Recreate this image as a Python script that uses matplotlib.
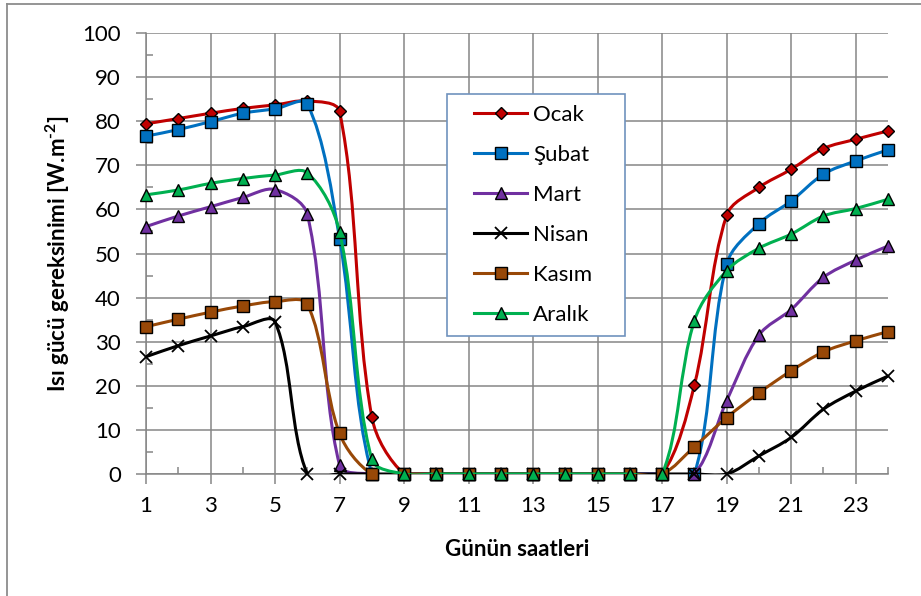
"""Hourly heating power demand per month (smoothed Excel-style lines)."""

import matplotlib

matplotlib.use("Agg")
import matplotlib.pyplot as plt
import numpy as np
from matplotlib.lines import Line2D
from matplotlib.patches import PathPatch, Rectangle
from matplotlib.path import Path

plt.rcParams["font.family"] = ["Lato", "DejaVu Sans"]
plt.rcParams["mathtext.fontset"] = "custom"
plt.rcParams["mathtext.rm"] = "Lato:bold"
plt.rcParams["mathtext.bf"] = "Lato:bold"
plt.rcParams["mathtext.default"] = "bf"

hours = [1, 2, 3, 4, 5, 6, 7, 8, 9, 10, 11, 12, 13, 14, 15, 16, 17, 18, 19, 20, 21, 22, 23, 24]

ocak = [79.4, 80.6, 81.8, 82.9, 83.7, 84.6, 82.2, 12.9, 0, 0, 0, 0, 0, 0, 0, 0, 0,
        20.2, 58.7, 65.0, 69.1, 73.8, 75.9, 77.8]
subat = [76.6, 78.1, 79.9, 81.8, 82.8, 83.9, 53.4, 0, 0, 0, 0, 0, 0, 0, 0, 0, 0,
         0, 47.6, 56.8, 61.9, 68.0, 71.0, 73.5]
mart = [56.1, 58.5, 60.6, 62.7, 64.5, 58.9, 2.0, 0, 0, 0, 0, 0, 0, 0, 0, 0, 0,
        0, 16.6, 31.5, 37.3, 44.6, 48.5, 51.7]
nisan = [26.6, 29.1, 31.3, 33.4, 34.5, 0, 0, 0, 0, 0, 0, 0, 0, 0, 0, 0, 0,
         0, 0, 4.1, 8.3, 14.7, 18.8, 22.2]
kasim = [33.4, 35.1, 36.7, 38.1, 39.1, 38.5, 9.2, 0, 0, 0, 0, 0, 0, 0, 0, 0, 0,
         6.2, 12.8, 18.4, 23.4, 27.7, 30.2, 32.3]
aralik = [63.3, 64.4, 65.9, 67.0, 67.8, 68.3, 54.9, 3.3, 0, 0, 0, 0, 0, 0, 0, 0, 0,
          34.8, 46.1, 51.2, 54.4, 58.5, 60.2, 62.3]

months = ["Ocak", "Şubat", "Mart", "Nisan", "Kasım", "Aralık"]
series = [ocak, subat, mart, nisan, kasim, aralik]
colors = ["#c00000", "#0070c0", "#7030a0", "#000000", "#984807", "#00b050"]
markers = ["D", "s", "^", "x", "s", "^"]
msizes = [6.3, 8.6, 8.6, 8.6, 8.6, 8.6]

GRID = "#868686"
W, H = 921, 596


def smooth_path(ax, xs, ys):
    """Bezier path through the points, in the spirit of Excel's smoothed line."""
    pts = ax.transData.transform(np.column_stack([xs, ys]))
    n = len(pts)
    verts = [pts[0]]
    codes = [Path.MOVETO]
    for i in range(n - 1):
        p0 = pts[max(i - 1, 0)]
        p1, p2 = pts[i], pts[i + 1]
        p3 = pts[min(i + 2, n - 1)]
        d01 = np.hypot(*(p1 - p0))
        d12 = np.hypot(*(p2 - p1))
        d23 = np.hypot(*(p3 - p2))
        k1 = d12 / (d01 + d12) / 3 if d01 + d12 > 0 else 0
        k2 = d12 / (d12 + d23) / 3 if d12 + d23 > 0 else 0
        verts += [p1 + k1 * (p2 - p0), p2 - k2 * (p3 - p1), p2]
        codes += [Path.CURVE4] * 3
    verts = ax.transData.inverted().transform(np.array(verts))
    return Path(verts, codes)


fig = plt.figure(figsize=(W / 100, H / 100), dpi=100)
ax = fig.add_axes([146 / W, (H - 474) / H, 742 / W, 441 / H])
ax.set_xlim(1, 24)
ax.set_ylim(0, 100)

for i, (name, vals, c, m, ms) in enumerate(zip(months, series, colors, markers, msizes)):
    z = 3 + i * 0.1
    ax.add_patch(PathPatch(smooth_path(ax, hours, vals), facecolor="none",
                           edgecolor=c, lw=2.2, zorder=z, capstyle="round"))
    if m == "x":
        ax.plot(hours, vals, ls="none", marker=m, ms=ms, mec=c, mew=1.3, zorder=z + 0.05,
                clip_on=False)
    else:
        ax.plot(hours, vals, ls="none", marker=m, ms=ms, mfc=c, mec="black", mew=1.0,
                zorder=z + 0.05, clip_on=False)

ax.set_xticks(range(1, 24, 2))
ax.set_xticks(hours, minor=True)
ax.set_yticks(range(0, 101, 10))
ax.set_yticks(range(5, 100, 10), minor=True)
ax.tick_params(axis="x", which="major", direction="out", length=7, width=1.1,
               color=GRID, labelsize=16, pad=9)
ax.tick_params(axis="x", which="minor", direction="in", length=5, width=1.1, color=GRID)
ax.tick_params(axis="y", which="major", direction="out", length=7, width=1.1,
               color=GRID, labelsize=16, pad=11)
ax.tick_params(axis="y", which="minor", direction="in", length=5, width=1.1, color=GRID)

ax.grid(True, which="major", color=GRID, lw=1.1)
ax.set_axisbelow(True)
for side in ("top", "right"):
    ax.spines[side].set_visible(False)
for side in ("left", "bottom"):
    ax.spines[side].set_color(GRID)
    ax.spines[side].set_linewidth(1.1)

ax.set_xlabel("Günün saatleri", fontsize=16, fontweight="bold")
ax.xaxis.set_label_coords(0.5, -(550 - 474) / 441)
ax.xaxis.label.set_verticalalignment("center")
ax.set_ylabel(r"Isı gücü gereksinimi [W.m$^{\text{-2}}$]", fontsize=16, fontweight="bold")
ax.yaxis.set_label_coords(-(146 - 58) / 742, 0.5)
ax.yaxis.label.set_verticalalignment("center")

# legend: frame drawn separately so its padding can match the original
fig.add_artist(Rectangle((447 / W, 1 - 336 / H), 178 / W, 242 / H, transform=fig.transFigure,
                         facecolor="white", edgecolor="#7092be", lw=1.2, zorder=10))
handles = [Line2D([], [], color=c, lw=2.2, marker=m, ms=ms,
                  mfc=c if m != "x" else "none", mec="black" if m != "x" else c,
                  mew=1.0 if m != "x" else 1.3)
           for c, m, ms in zip(colors, markers, msizes)]
leg = fig.legend(handles, months, loc="upper left", bbox_to_anchor=(474 / W, 1 - 105 / H),
                 frameon=False, fontsize=16, handlelength=2.4, handletextpad=0.25,
                 labelspacing=0.9, borderpad=0, borderaxespad=0)
leg.set_zorder(11)

# outer chart border (left and top edges are visible in the crop)
fig.add_artist(Line2D([7 / W, 7 / W], [0, 1 - 4 / H], transform=fig.transFigure,
                      color="#8c8c8c", lw=1.3))
fig.add_artist(Line2D([7 / W, 1], [1 - 4 / H, 1 - 4 / H], transform=fig.transFigure,
                      color="#8c8c8c", lw=1.3))

fig.savefig("out.png", dpi=100)
